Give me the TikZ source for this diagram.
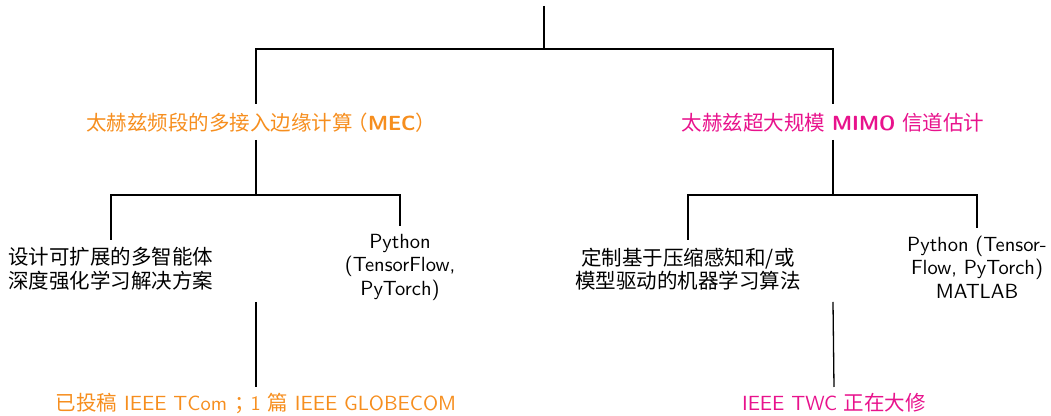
\documentclass[tikz,border=0pt]{standalone}
\usepackage{fontspec}
\setsansfont{Latin Modern Sans}
\newfontfamily\cjk{Noto Sans CJK SC}
\definecolor{orng}{RGB}{246,142,30}
\definecolor{pnk}{RGB}{232,18,140}
\newcommand{\zlp}{\kern-0.25em（}
\newcommand{\zrp}{）\kern-0.5em}
\begin{document}
\begin{tikzpicture}[x=0.5pt,y=-0.5pt,
  every node/.style={font=\sffamily\fontsize{10.25}{11.75}\selectfont, inner sep=0pt, outer sep=0pt},
  edge/.style={line width=0.65pt, black},
  headnode/.style={text height=8.5pt, text depth=1.5pt},
  leafnode/.style={align=center},
  pubnode/.style={text height=8.5pt, text depth=1.5pt}]
\useasboundingbox (0,0) rectangle (1051,416);
% coordinates of junctions
\coordinate (root) at (544,6);
\coordinate (rootj) at (544,49);
\coordinate (lbar) at (256,195);
\coordinate (rbar) at (833,195);
\coordinate (lpubtop) at (256,302);
\coordinate (rpubtop) at (833,302);
% headings
\node[headnode,text=orng] (mec) at (256,124) {{\cjk 太赫兹频段的多接入边缘计算\zlp}{\bfseries MEC}{\cjk \zrp}};
\node[headnode,text=pnk] (mimo) at (833,124) {{\cjk 太赫兹超大规模} {\bfseries MIMO} {\cjk 信道估计}};
% leaves
\node[leafnode] (a1) at (111,269) {{\cjk 设计可扩展的多智能体}\\{\cjk 深度强化学习解决方案}};
\node[leafnode] (p1) at (400,267) {Python\\(TensorFlow,\\PyTorch)};
\node[leafnode] (a2) at (688,269) {{\cjk 定制基于压缩感知和/或}\\{\cjk 模型驱动的机器学习算法}};
\node[leafnode] (p2) at (977,267) {Python (Tensor-\\Flow, PyTorch)\\MATLAB};
% publications
\node[pubnode,text=orng] (publ) at (256,404) {{\cjk 已投稿} IEEE TCom\kern3.5pt{\cjk ；}\kern-2pt 1 {\cjk 篇} IEEE GLOBECOM};
\node[pubnode,text=pnk] (pubr) at (834,404) {IEEE TWC {\cjk 正在大修}};
% connectors
\draw[edge] (root) -- (rootj);
\draw[edge] ([yshift=5pt]mec.north) |- (rootj) -| ([yshift=5pt]mimo.north);
\draw[edge] ([yshift=-3pt]mec.south) -- (lbar);
\draw[edge] ([yshift=-3pt]mimo.south) -- (rbar);
\draw[edge] ([yshift=4pt]a1.north) |- (lbar) -| ([yshift=4pt]p1.north);
\draw[edge] ([yshift=4pt]a2.north) |- (rbar) -| ([yshift=4pt]p2.north);
\draw[edge] (lpubtop) -- ([yshift=3.5pt]publ.north);
\draw[edge] (rpubtop) -- ([yshift=3.5pt]pubr.north);
\end{tikzpicture}
\end{document}
